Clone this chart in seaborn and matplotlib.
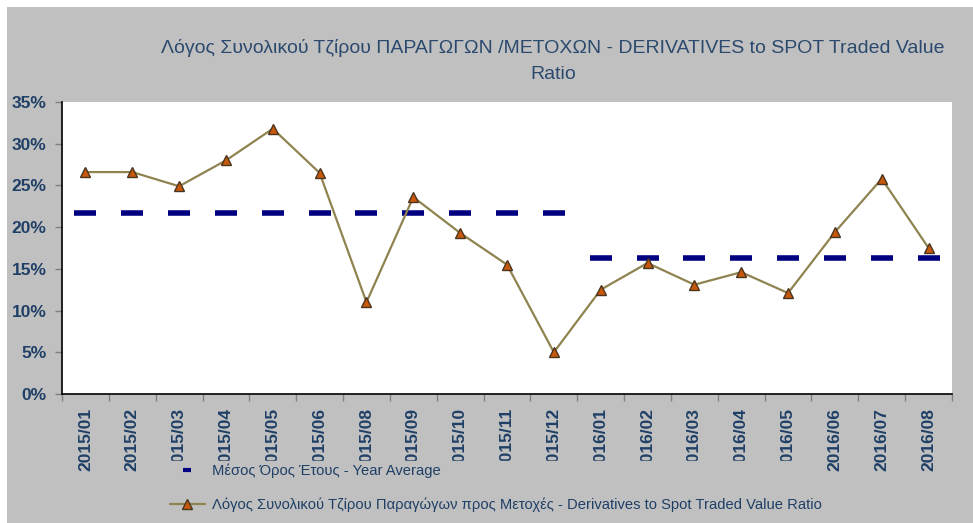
import numpy as np
import pandas as pd
import matplotlib
matplotlib.use("Agg")
import matplotlib.pyplot as plt
import seaborn as sns
from matplotlib.lines import Line2D
from matplotlib.patches import Rectangle

# data
months = ["2015/01", "2015/02", "2015/03", "2015/04", "2015/05", "2015/06", "2015/08",
          "2015/09", "2015/10", "2015/11", "2015/12", "2016/01", "2016/02", "2016/03",
          "2016/04", "2016/05", "2016/06", "2016/07", "2016/08"]
ratio = [26.6, 26.6, 24.9, 28.0, 31.8, 26.5, 11.0, 23.6, 19.3, 15.5, 5.0,
         12.5, 15.7, 13.1, 14.6, 12.1, 19.4, 25.8, 17.5]
avg_2015 = 21.7
avg_2016 = 16.3
yticks = [0, 5, 10, 15, 20, 25, 30, 35]

title = "Λόγος Συνολικού Τζίρου ΠΑΡΑΓΩΓΩΝ /ΜΕΤΟΧΩΝ - DERIVATIVES to SPOT Traded Value\nRatio"
lbl_avg = "Μέσος Όρος Έτους - Year Average"
lbl_ratio = "Λόγος Συνολικού Τζίρου Παραγώγων προς Μετοχές - Derivatives to Spot Traded Value Ratio"

df = pd.DataFrame({"month": months, "ratio": ratio})
df["x"] = np.arange(len(df))
df["year"] = df["month"].str[:4]
df["avg"] = np.where(df["year"] == "2015", avg_2015, avg_2016)

sns.set_theme(style="white")
plt.rcParams["font.family"] = ["Liberation Sans", "DejaVu Sans"]

txt_col = "#1F3F66"
grey = "#C0C0C0"
line_col = "#8F8350"
navy = "#000080"
tri_face = "#C8580A"
tri_edge = "#4A3520"

fig = plt.figure(figsize=(9.73, 5.23), dpi=100, facecolor="white")
fig.patches.append(Rectangle((7 / 973, 0), 1, 1 - 7 / 523, transform=fig.transFigure,
                             facecolor=grey, edgecolor="none", zorder=-10))
ax = fig.add_axes([62 / 973, 1 - 394 / 523, (952 - 62) / 973, (394 - 102) / 523])
ax.set_facecolor("white")

# year averages as dash markers
for yr, sub in df.groupby("year"):
    sns.lineplot(data=sub, x="x", y="avg", ax=ax, linestyle="none", marker="_",
                 markersize=16, markeredgewidth=4, color=navy,
                 markeredgecolor=navy, legend=False)

sns.lineplot(data=df, x="x", y="ratio", ax=ax, sort=False, color=line_col, linewidth=1.6,
             marker="^", markersize=7.5, markerfacecolor=tri_face,
             markeredgecolor=tri_edge, markeredgewidth=1.0, legend=False)

ax.set_xlim(-0.5, len(months) - 0.5)
ax.set_ylim(0, 35)
ax.set_yticks(yticks)
ax.set_yticklabels([f"{v}%" for v in yticks], fontsize=12.5, fontweight="bold", color=txt_col)
ax.set_xticks(df["x"])
ax.set_xticklabels(months, rotation=90, fontsize=12.5, fontweight="bold", color=txt_col)
ax.set_xticks(np.arange(-0.5, len(months), 1), minor=True)
ax.tick_params(axis="x", which="major", length=0, pad=10)
ax.tick_params(axis="x", which="minor", length=5, color="#808080", width=1, bottom=True)
ax.tick_params(axis="y", length=5, color="#808080", width=1, left=True, pad=6)
ax.set_xlabel("")
ax.set_ylabel("")
for s in ["top", "right"]:
    ax.spines[s].set_visible(False)
for s in ["left", "bottom"]:
    ax.spines[s].set_color("black")
    ax.spines[s].set_linewidth(1.2)

fig.text(553 / 973, 1 - 61 / 523, title, ha="center", va="center", fontsize=14,
         color="#2B4A6E", linespacing=1.75)

handles = [
    Line2D([], [], linestyle="none", marker="_", markersize=6, markeredgewidth=3, color=navy),
    Line2D([], [], color=line_col, linewidth=1.6, marker="^", markersize=7.5,
           markerfacecolor=tri_face, markeredgecolor=tri_edge),
]
leg = fig.legend(handles, [lbl_avg, lbl_ratio], loc="upper left",
                 bbox_to_anchor=(160 / 973, 1 - 454 / 523), frameon=True,
                 facecolor=grey, edgecolor=grey, framealpha=1, fancybox=False,
                 labelspacing=1.35, handlelength=2.4, handletextpad=0.5, borderpad=0.15,
                 prop={"size": 10.6})
for t in leg.get_texts():
    t.set_color(txt_col)

fig.savefig("out.png", dpi=100, facecolor=fig.get_facecolor())
